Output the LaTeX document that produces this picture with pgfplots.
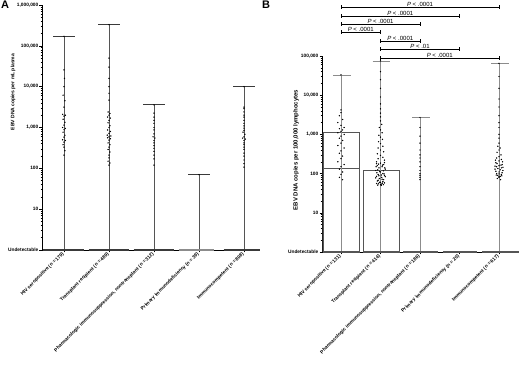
\documentclass[border=0pt]{standalone}
\usepackage{pgfplots}
\pgfplotsset{compat=1.18}
\usepackage{fontspec}
\setmainfont{Liberation Sans}
\definecolor{lg}{HTML}{8C8C8C}
\definecolor{dg}{HTML}{555555}
\definecolor{sg}{HTML}{3A3A3A}

\pgfplotstableread{
x y
0.00 170000
0.00 25700
0.01 16000
0.00 10000
-0.02 6200
0.02 4500
0.00 3150
-0.03 2100
0.03 2000
0.00 1900
-0.02 1600
0.02 1340
0.00 1150
-0.03 1000
0.03 950
0.00 880
-0.02 770
0.02 650
0.00 580
-0.03 500
0.03 480
0.00 440
-0.02 380
0.00 330
0.02 270
0.00 210
1.00 330000
1.00 50000
1.00 30000
1.00 16000
1.00 10000
1.00 6900
1.00 4700
0.98 2400
1.02 2200
1.00 2000
0.97 1800
1.03 1700
1.00 1500
0.98 1300
1.02 1100
1.00 1000
0.97 870
1.03 800
1.00 720
0.96 650
1.04 620
1.00 590
0.97 560
1.03 530
1.00 490
0.98 420
1.02 380
1.00 330
0.98 290
1.02 250
1.00 210
1.00 180
0.98 150
1.02 135
1.00 120
2.00 3600
2.00 2250
2.00 1800
2.00 1500
2.00 1270
2.00 1000
2.00 870
2.00 700
1.98 590
2.02 550
2.00 480
2.00 420
2.00 360
2.00 310
2.00 260
2.00 210
2.00 170
2.00 120
3.00 70
4.00 10000
4.00 3150
4.00 2900
4.00 2400
4.00 2000
4.00 1800
4.00 1500
4.00 1270
4.00 1100
4.00 960
4.00 850
3.98 770
4.02 680
4.00 590
3.97 550
4.03 520
4.00 480
4.00 420
4.00 380
4.00 330
4.00 290
4.00 235
4.00 200
4.00 160
4.00 130
4.00 107
}\dotsA

\pgfplotstableread{
x y
0.00 33000
0.00 4200
0.00 3600
-0.04 3000
0.04 2400
-0.08 2000
0.00 1700
0.08 1500
-0.04 1400
0.04 1300
0.00 1200
-0.08 1100
0.08 1000
0.00 900
-0.04 800
0.04 700
0.00 600
-0.08 520
0.08 450
0.00 380
-0.04 330
0.04 280
0.00 240
-0.08 200
0.08 170
0.00 150
-0.04 130
0.04 110
0.00 95
-0.04 80
0.04 70
1.00 75000
1.00 40000
1.00 25000
1.00 15000
1.00 9000
1.00 6000
1.00 4500
1.00 3500
1.00 2800
1.00 2200
1.03 1800
0.97 1500
1.00 1300
1.04 1100
0.96 950
1.00 850
1.05 750
0.95 650
1.00 580
1.06 500
0.94 450
1.00 400
1.08 360
0.92 320
1.00 290
1.06 260
0.94 240
1.10 220
0.90 200
1.00 185
1.08 170
0.92 160
1.04 150
0.96 140
1.12 130
0.88 120
1.00 110
1.06 100
0.94 95
1.10 90
0.90 85
1.03 80
0.97 75
1.08 70
0.92 65
1.00 60
1.05 57
0.95 55
1.00 52
1.02 50
0.90 180
1.10 190
0.95 175
1.05 165
0.89 150
1.11 140
0.93 125
1.07 118
0.98 112
0.91 105
1.09 98
1.02 92
0.96 88
1.12 84
0.88 78
1.04 72
0.94 68
1.06 63
0.97 60
1.10 58
0.90 56
1.02 54
1.07 52
0.93 51
2.00 2700
2.00 1500
2.00 900
2.00 600
2.00 400
2.00 300
2.00 250
2.00 200
2.00 150
2.00 120
2.00 100
2.00 90
2.00 80
2.00 70
4.00 65000
4.00 30000
4.00 15000
4.00 8000
4.00 5000
4.00 3000
4.00 2000
4.00 1500
4.00 1000
4.00 800
4.00 600
3.97 500
4.03 450
4.00 400
3.95 350
4.05 300
4.00 270
3.94 250
4.06 230
4.00 210
3.92 190
4.08 170
4.00 160
3.94 150
4.06 140
3.90 130
4.10 120
4.00 110
3.94 100
4.06 95
3.97 90
4.03 85
4.00 80
3.96 75
4.04 70
3.91 220
4.09 200
3.95 180
4.05 165
3.90 155
4.10 145
3.97 135
4.03 125
3.92 115
4.08 105
4.00 98
3.93 92
4.07 88
4.00 84
}\dotsB

\begin{document}
\begin{tikzpicture}
\path[use as bounding box] (0,0) rectangle (520pt,381pt);

% ---------------- Panel A ----------------
\begin{axis}[
  scale only axis,
  ymode=log,
  ymin=1, ymax=1000000,
  axis x line=bottom,
  axis y line=left,
  axis line style={-, line width=0.8pt, black},
  xtick={0,1,2,3,4},
  tick align=outside,
  major tick length=2.5pt,
  minor tick length=1.3pt,
  tick style={black, line width=0.5pt},
  ticklabel style={font=\bfseries\fontsize{4.8}{5}\selectfont},
  xticklabel style={rotate=45, anchor=east, inner sep=1pt},
  yticklabel style={inner sep=1pt},
  clip=false,
  at={(42pt,131pt)}, anchor=south west,
  width=218pt, height=245pt,
  xmin=-0.489, xmax=4.356,
  ytick={1,10,100,1000,10000,100000,1000000},
  yticklabels={Undetectable,10,100,{1,000},{10,000},{100,000},{1,000,000}},
  minor ytick={2,3,4,5,6,7,8,9,20,30,40,50,60,70,80,90,200,300,400,500,600,700,800,900,2000,3000,4000,5000,6000,7000,8000,9000,20000,30000,40000,50000,60000,70000,80000,90000,200000,300000,400000,500000,600000,700000,800000,900000},
  xticklabels={HIV seropositive (n = 179),Transplant recipient (n = 489),{Pharmacologic immunosuppression, nontransplant (n = 312)},Primary immunodeficiency (n = 39),Immunocompetent (n = 808)},
  ylabel={EBV DNA copies per mL plasma},
  ylabel style={at={(axis description cs:-0.133,0.645)}, anchor=center, font=\bfseries\fontsize{5}{6}\selectfont},
]
\addplot[line width=0.6pt, dg, mark=none] coordinates {(0,1) (0,170000)};
\addplot[line width=0.6pt, dg, mark=none] coordinates {(1,1) (1,330000)};
\addplot[line width=0.6pt, dg, mark=none] coordinates {(2,1) (2,3600)};
\addplot[line width=0.6pt, dg, mark=none] coordinates {(3,1) (3,70)};
\addplot[line width=0.6pt, dg, mark=none] coordinates {(4,1) (4,10000)};
\addplot[line width=0.6pt, sg, mark=none] coordinates {(-0.24,170000) (0.24,170000)};
\addplot[line width=0.6pt, sg, mark=none] coordinates {(0.76,330000) (1.24,330000)};
\addplot[line width=0.6pt, sg, mark=none] coordinates {(1.76,3600) (2.24,3600)};
\addplot[line width=0.6pt, sg, mark=none] coordinates {(2.76,70) (3.24,70)};
\addplot[line width=0.6pt, sg, mark=none] coordinates {(3.76,10000) (4.24,10000)};
\addplot[line width=2.2pt, sg, mark=none] coordinates {(-0.47,1) (0.44,1)};
\addplot[line width=2.2pt, sg, mark=none] coordinates {(0.55,1) (1.44,1)};
\addplot[line width=2.2pt, sg, mark=none] coordinates {(1.55,1) (2.44,1)};
\addplot[line width=2.2pt, lg, mark=none] coordinates {(2.55,1) (3.34,1)};
\addplot[line width=2.2pt, sg, mark=none] coordinates {(3.55,1) (4.356,1)};
\addplot[only marks, mark=*, mark size=0.45pt, black] table[x=x, y=y] {\dotsA};
\end{axis}

% ---------------- Panel B ----------------
\begin{axis}[
  scale only axis,
  ymode=log,
  ymin=1, ymax=100000,
  axis x line=bottom,
  axis y line=left,
  axis line style={-, line width=0.8pt, black},
  xtick={0,1,2,3,4},
  tick align=outside,
  major tick length=2.5pt,
  minor tick length=1.3pt,
  tick style={black, line width=0.5pt},
  ticklabel style={font=\bfseries\fontsize{4.8}{5}\selectfont},
  xticklabel style={rotate=45, anchor=east, inner sep=1pt},
  yticklabel style={inner sep=1pt},
  clip=false,
  at={(322pt,129pt)}, anchor=south west,
  width=197pt, height=196pt,
  xmin=-0.481, xmax=4.506,
  ytick={1,10,100,1000,10000,100000},
  yticklabels={Undetectable,10,100,{1,000},{10,000},{100,000}},
  minor ytick={2,3,4,5,6,7,8,9,20,30,40,50,60,70,80,90,200,300,400,500,600,700,800,900,2000,3000,4000,5000,6000,7000,8000,9000,20000,30000,40000,50000,60000,70000,80000,90000},
  xticklabels={HIV seropositive (n = 131),Transplant recipient (n = 414),{Pharmacologic immunosuppression, nontransplant (n = 186)},Primary immunodeficiency (n = 20),Immunocompetent (n = 617)},
  ylabel={EBV DNA copies per 100,000 lymphocytes},
  ylabel style={at={(axis description cs:-0.132,0.52)}, anchor=center, font=\bfseries\fontsize{6}{7}\selectfont},
]
\addplot[draw=dg, line width=0.6pt, fill=white, mark=none] coordinates {(-0.46,1) (-0.46,1100) (0.46,1100) (0.46,1) (-0.46,1)};
\addplot[draw=dg, line width=0.6pt, fill=white, mark=none] coordinates {(0.56,1) (0.56,125) (1.48,125) (1.48,1) (0.56,1)};
\addplot[line width=0.6pt, dg, mark=none] coordinates {(-0.46,134) (0.46,134)};
\addplot[line width=0.6pt, lg, mark=none] coordinates {(0,1) (0,33000)};
\addplot[line width=0.6pt, lg, mark=none] coordinates {(1,1) (1,75000)};
\addplot[line width=0.6pt, lg, mark=none] coordinates {(2,1) (2,2700)};
\addplot[line width=0.6pt, lg, mark=none] coordinates {(4,1) (4,64000)};
\addplot[line width=0.6pt, lg, mark=none] coordinates {(-0.2,33000) (0.25,33000)};
\addplot[line width=0.6pt, lg, mark=none] coordinates {(0.8,75000) (1.25,75000)};
\addplot[line width=0.6pt, lg, mark=none] coordinates {(1.8,2700) (2.25,2700)};
\addplot[line width=0.6pt, lg, mark=none] coordinates {(3.8,64000) (4.25,64000)};
\addplot[line width=2pt, dg, mark=none] coordinates {(-0.46,1) (0.46,1)};
\addplot[line width=2pt, dg, mark=none] coordinates {(0.56,1) (1.47,1)};
\addplot[line width=2pt, dg, mark=none] coordinates {(1.57,1) (2.45,1)};
\addplot[line width=2pt, dg, mark=none] coordinates {(2.57,1) (3.45,1)};
\addplot[line width=2pt, dg, mark=none] coordinates {(3.57,1) (4.5,1)};
\addplot[only marks, mark=*, mark size=0.45pt, black] table[x=x, y=y] {\dotsB};
\draw[line width=0.6pt] (axis cs:0,1780000) -- (axis cs:4,1780000);
\draw[line width=0.6pt] ([yshift=-1.8pt]axis cs:0,1780000) -- ([yshift=1.8pt]axis cs:0,1780000);
\draw[line width=0.6pt] ([yshift=-1.8pt]axis cs:4,1780000) -- ([yshift=1.8pt]axis cs:4,1780000);
\draw[line width=0.6pt] (axis cs:0,1050000) -- (axis cs:3,1050000);
\draw[line width=0.6pt] ([yshift=-1.8pt]axis cs:0,1050000) -- ([yshift=1.8pt]axis cs:0,1050000);
\draw[line width=0.6pt] ([yshift=-1.8pt]axis cs:3,1050000) -- ([yshift=1.8pt]axis cs:3,1050000);
\draw[line width=0.6pt] (axis cs:0,655000) -- (axis cs:2,655000);
\draw[line width=0.6pt] ([yshift=-1.8pt]axis cs:0,655000) -- ([yshift=1.8pt]axis cs:0,655000);
\draw[line width=0.6pt] ([yshift=-1.8pt]axis cs:2,655000) -- ([yshift=1.8pt]axis cs:2,655000);
\draw[line width=0.6pt] (axis cs:0,408000) -- (axis cs:1,408000);
\draw[line width=0.6pt] ([yshift=-1.8pt]axis cs:0,408000) -- ([yshift=1.8pt]axis cs:0,408000);
\draw[line width=0.6pt] ([yshift=-1.8pt]axis cs:1,408000) -- ([yshift=1.8pt]axis cs:1,408000);
\draw[line width=0.6pt] (axis cs:1,240000) -- (axis cs:2,240000);
\draw[line width=0.6pt] ([yshift=-1.8pt]axis cs:1,240000) -- ([yshift=1.8pt]axis cs:1,240000);
\draw[line width=0.6pt] ([yshift=-1.8pt]axis cs:2,240000) -- ([yshift=1.8pt]axis cs:2,240000);
\draw[line width=0.6pt] (axis cs:1,151000) -- (axis cs:3,151000);
\draw[line width=0.6pt] ([yshift=-1.8pt]axis cs:1,151000) -- ([yshift=1.8pt]axis cs:1,151000);
\draw[line width=0.6pt] ([yshift=-1.8pt]axis cs:3,151000) -- ([yshift=1.8pt]axis cs:3,151000);
\draw[line width=0.6pt] (axis cs:1,89000) -- (axis cs:4,89000);
\draw[line width=0.6pt] ([yshift=-1.8pt]axis cs:1,89000) -- ([yshift=1.8pt]axis cs:1,89000);
\draw[line width=0.6pt] ([yshift=-1.8pt]axis cs:4,89000) -- ([yshift=1.8pt]axis cs:4,89000);
\node[anchor=south, inner sep=0.6pt, font=\fontsize{6}{6}\selectfont] at (axis cs:2,1780000) {\textit{P} < .0001};
\node[anchor=south, inner sep=0.6pt, font=\fontsize{6}{6}\selectfont] at (axis cs:1.5,1050000) {\textit{P} < .0001};
\node[anchor=south, inner sep=0.6pt, font=\fontsize{6}{6}\selectfont] at (axis cs:1,655000) {\textit{P} < .0001};
\node[anchor=south, inner sep=0.6pt, font=\fontsize{6}{6}\selectfont] at (axis cs:0.5,408000) {\textit{P} < .0001};
\node[anchor=south, inner sep=0.6pt, font=\fontsize{6}{6}\selectfont] at (axis cs:1.5,240000) {\textit{P} < .0001};
\node[anchor=south, inner sep=0.6pt, font=\fontsize{6}{6}\selectfont] at (axis cs:2,151000) {\textit{P} < .01};
\node[anchor=south, inner sep=0.6pt, font=\fontsize{6}{6}\selectfont] at (axis cs:2.5,89000) {\textit{P} < .0001};
\end{axis}

\node[anchor=north west, inner sep=0pt, font=\bfseries\fontsize{11}{11}\selectfont] at (1pt,380pt) {A};
\node[anchor=north west, inner sep=0pt, font=\bfseries\fontsize{11}{11}\selectfont] at (262pt,380pt) {B};
\end{tikzpicture}
\end{document}
